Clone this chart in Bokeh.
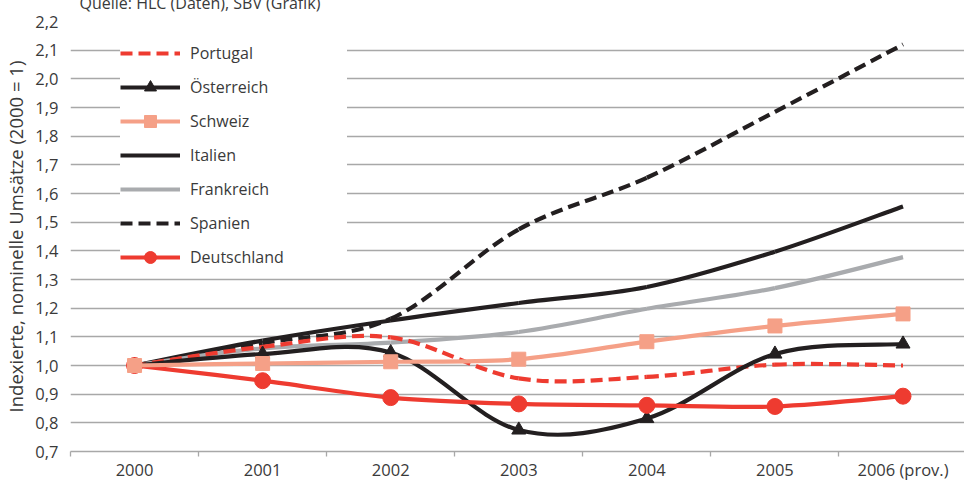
import numpy as np
from bokeh.plotting import figure
from bokeh.models import (FixedTicker, CustomJSTickFormatter, Legend, LegendItem, Range1d)
from bokeh.embed import file_html
from bokeh.resources import INLINE

# ---------------- data ----------------
years = ["2000", "2001", "2002", "2003", "2004", "2005", "2006 (prov.)"]
portugal    = [1.000, 1.065, 1.098, 0.955, 0.960, 1.003, 1.000]
oesterreich = [1.000, 1.040, 1.045, 0.775, 0.815, 1.040, 1.075]
schweiz     = [1.000, 1.007, 1.013, 1.022, 1.083, 1.138, 1.180]
italien     = [1.000, 1.087, 1.157, 1.218, 1.274, 1.397, 1.555]
frankreich  = [1.000, 1.060, 1.080, 1.117, 1.198, 1.270, 1.378]
spanien     = [1.000, 1.078, 1.163, 1.475, 1.655, 1.885, 2.120]
deutschland = [1.000, 0.947, 0.888, 0.866, 0.861, 0.857, 0.893]
y_ticks = [0.7, 0.8, 0.9, 1.0, 1.1, 1.2, 1.3, 1.4, 1.5, 1.6, 1.7, 1.8, 1.9, 2.0, 2.1, 2.2]

source_text = "Quelle: HLC (Daten), SBV (Grafik)"
y_title = "Indexierte, nominelle Umsätze (2000 = 1)"

# ---------------- style ----------------
FONT = "Open Sans"
TXT = "#3a3a3a"
GRID = "#a8a8a8"
RED = "#ee3b30"
SALMON = "#f5a087"
GRAY = "#a9abae"
BLACK = "#231f20"

x = np.arange(len(years), dtype=float)


def smooth(yvals):
    """Smoothed (Catmull-Rom) segments through the data points as Bezier control points."""
    y = np.asarray(yvals, dtype=float)
    n = len(y)
    xp = np.r_[x[0], x, x[-1]]
    yp = np.r_[y[0], y, y[-1]]
    return dict(
        x0=x[:-1], y0=y[:-1], x1=x[1:], y1=y[1:],
        cx0=x[:-1] + (xp[2:n + 1] - xp[0:n - 1]) / 6.0,
        cy0=y[:-1] + (yp[2:n + 1] - yp[0:n - 1]) / 6.0,
        cx1=x[1:] - (xp[3:n + 2] - xp[1:n]) / 6.0,
        cy1=y[1:] - (yp[3:n + 2] - yp[1:n]) / 6.0,
    )


FRAME_H = 430
p = figure(frame_width=894, frame_height=FRAME_H,
           x_range=Range1d(-0.5, 6.48), y_range=Range1d(0.7, 2.2),
           output_backend="svg", toolbar_location=None,
           min_border_left=66, min_border_right=0,
           min_border_top=41, min_border_bottom=20,
           outline_line_color=None,
           title=source_text,
           styles={"margin-top": "-20px", "margin-bottom": "-20px"})

p.title.align = "left"
p.title.offset = 9
p.title.standoff = 16
p.title.text_font = FONT
p.title.text_font_size = "16px"
p.title.text_font_style = "normal"
p.title.text_color = TXT

# grid / axes
p.xgrid.visible = False
p.ygrid.ticker = FixedTicker(ticks=y_ticks)
p.ygrid.grid_line_color = GRID
p.ygrid.grid_line_width = 1.3

p.xaxis.ticker = FixedTicker(ticks=list(range(len(years))),
                             minor_ticks=[i - 0.5 for i in range(len(years) + 1)])
p.xaxis.major_label_overrides = {i: lab for i, lab in enumerate(years)}
p.xaxis.major_tick_line_color = None
p.xaxis.major_tick_out = 0
p.xaxis.major_tick_in = 0
p.xaxis.minor_tick_line_color = GRID
p.xaxis.minor_tick_line_width = 1.3
p.xaxis.minor_tick_out = 5
p.xaxis.minor_tick_in = 0
p.xaxis.axis_line_color = GRID
p.xaxis.axis_line_width = 1.3
p.xaxis.major_label_standoff = 1

p.yaxis.ticker = FixedTicker(ticks=y_ticks)
p.yaxis.formatter = CustomJSTickFormatter(code="return tick.toFixed(1).replace('.', ',');")
p.yaxis.axis_line_color = None
p.yaxis.major_tick_line_color = None
p.yaxis.minor_tick_line_color = None
p.yaxis.major_tick_out = 0
p.yaxis.major_label_standoff = 12
p.yaxis.axis_label = y_title
p.yaxis.axis_label_standoff = 4

for ax in (p.xaxis, p.yaxis):
    ax.major_label_text_font = FONT
    ax.major_label_text_font_size = "16.5px"
    ax.major_label_text_color = TXT
    ax.axis_label_text_font = FONT
    ax.axis_label_text_font_style = "normal"
    ax.axis_label_text_color = TXT
p.yaxis.axis_label_text_font_size = "18.5px"

# ---------------- series ----------------
LW = 4.2
r_es = p.bezier(source=smooth(spanien), line_color=BLACK, line_width=LW, line_dash="12 6")
r_it = p.bezier(source=smooth(italien), line_color=BLACK, line_width=LW)
r_fr = p.bezier(source=smooth(frankreich), line_color=GRAY, line_width=LW)
r_pt = p.bezier(source=smooth(portugal), line_color=RED, line_width=LW, line_dash="12 6")
r_at = p.bezier(source=smooth(oesterreich), line_color=BLACK, line_width=LW)
m_at = p.scatter(x, oesterreich, marker="triangle", size=14, fill_color=BLACK, line_color=BLACK)
r_de = p.bezier(source=smooth(deutschland), line_color=RED, line_width=LW)
m_de = p.scatter(x, deutschland, marker="circle", size=16, fill_color=RED, line_color=RED)
r_ch = p.bezier(source=smooth(schweiz), line_color=SALMON, line_width=LW)
m_ch = p.scatter(x, schweiz, marker="square", size=14, fill_color=SALMON, line_color=SALMON)

legend = Legend(items=[
    LegendItem(label="Portugal", renderers=[r_pt]),
    LegendItem(label="Österreich", renderers=[r_at, m_at]),
    LegendItem(label="Schweiz", renderers=[r_ch, m_ch]),
    LegendItem(label="Italien", renderers=[r_it]),
    LegendItem(label="Frankreich", renderers=[r_fr]),
    LegendItem(label="Spanien", renderers=[r_es]),
    LegendItem(label="Deutschland", renderers=[r_de, m_de]),
],
    location=(50, 179), orientation="vertical",
    glyph_width=60, glyph_height=30, spacing=4, padding=6, margin=0,
    label_standoff=10, label_width=157,
    label_text_font=FONT, label_text_font_size="16px", label_text_color=TXT,
    background_fill_color="white", background_fill_alpha=1.0,
    border_line_color=None)
p.add_layout(legend)

open("out.html", "w").write(file_html(p, INLINE))
